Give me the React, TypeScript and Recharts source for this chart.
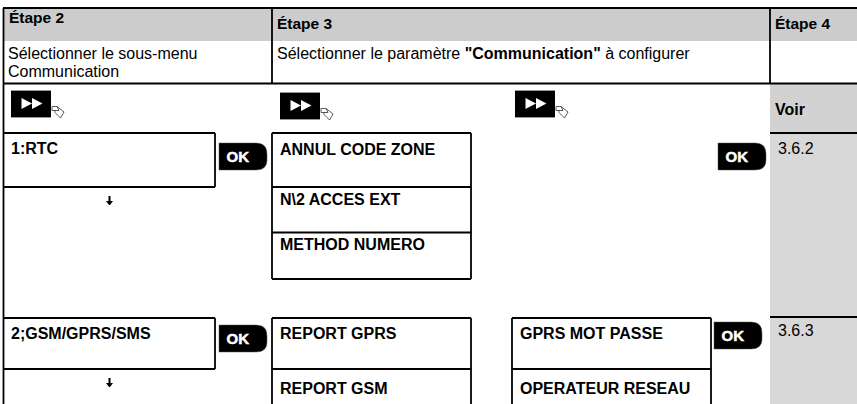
import { ReferenceArea, ReferenceLine, Scatter, ScatterChart, XAxis, YAxis } from "recharts";

const W = 857;
const H = 404;
const FONT = "'Liberation Sans', Arial, sans-serif";

// the table is plotted in a data space equal to the picture's own size
const headerLabels = ["Étape 2", "Étape 3", "Étape 4"];
const headerX = [9, 277, 775];
const headerY = [23, 29, 29];

const introLabels = ["Sélectionner le sous-menu", "Communication", 'Sélectionner le paramètre *"Communication"* à configurer'];
const introX = [8, 8, 277];
const introY = [59, 77, 59];

const menuLabels = [
  "Voir", "1:RTC", "ANNUL CODE ZONE", "N\\2 ACCES EXT", "METHOD NUMERO",
  "2;GSM/GPRS/SMS", "REPORT GPRS", "REPORT GSM", "GPRS MOT PASSE", "OPERATEUR RESEAU",
];
const menuX = [775, 11, 280, 280, 280, 11, 280, 280, 520, 520];
const menuY = [115, 154, 155, 205, 250, 339, 339, 394, 339, 394];

const refLabels = ["3.6.2", "3.6.3"];
const refX = [778, 778];
const refY = [154, 336];

const arrowX = [109.5, 109.5];
const arrowY = [205, 387];

const okX = [219, 718, 219, 714];
const okY = [143, 143, 325, 322];

const ffX = [11, 280, 515];
const ffY = [91, 93, 91];

const hLines = [
  [3, 857, 8], [3, 857, 83.5],
  [3, 215, 133], [272, 471, 133], [770, 857, 133],
  [3, 215, 187], [272, 471, 187], [272, 471, 232.5], [272, 471, 279],
  [3, 215, 318], [272, 471, 318], [512, 711, 318], [770, 857, 317],
  [3, 215, 369], [272, 471, 369], [512, 711, 369],
];
const vLines = [
  [3.5, 8, 404], [272, 8, 83.5], [770, 8, 83.5],
  [215, 133, 187], [272, 133, 279], [471, 133, 279],
  [215, 318, 369], [272, 318, 404], [471, 318, 404],
  [512, 318, 404], [711, 318, 404],
];

const toRows = (labels: string[], xs: number[], ys: number[]) =>
  labels.map((label, i) => ({ label, x: xs[i], y: ys[i] }));

const toPoints = (xs: number[], ys: number[]) => xs.map((x, i) => ({ x, y: ys[i] }));

function textShape(size: number, weight: string) {
  return (props: any) => {
    const parts = String(props.payload.label).split("*");
    return (
      <text x={props.cx} y={props.cy} fontFamily={FONT} fontSize={size} fontWeight={weight} fill="#000">
        {parts.map((p: string, i: number) => (
          <tspan key={i} fontWeight={i % 2 ? "bold" : weight} xmlSpace="preserve">{p}</tspan>
        ))}
      </text>
    );
  };
}

function OkButton(props: any) {
  const { cx, cy } = props;
  return (
    <g transform={`translate(${cx},${cy})`}>
      <path d="M0 0H37Q48 0 48 11V17Q48 27 37 27H0Z" fill="#000" stroke="#555" strokeWidth={0.5} />
      <text x={7.5} y={19} fontFamily={FONT} fontSize={15} fontWeight="bold" fill="#fff" stroke="#fff" strokeWidth={0.5}>OK</text>
    </g>
  );
}

function ForwardIcon(props: any) {
  const { cx, cy } = props;
  return (
    <g transform={`translate(${cx},${cy})`}>
      <rect x={0} y={0} width={40} height={26} fill="#000" />
      <rect x={0} y={-1} width={40} height={1} fill="#999" />
      <rect x={0} y={26} width={40} height={1} fill="#999" />
      <path d="M10.5 7L21 12.5L10.5 18ZM21 7L31.5 12.5L21 18Z" fill="#fff" />
      <path d="M41 15.5H46L53 21L49.5 27L44 21.5V19.5H41ZM46 15.5L48 19.5H44" fill="#fff" stroke="#333" strokeWidth={0.8} />
    </g>
  );
}

function ArrowDown(props: any) {
  const { cx, cy } = props;
  return (
    <path
      d={`M${cx - 1} ${cy - 9}H${cx + 1}V${cy - 4}H${cx + 3.5}L${cx + 0.5} ${cy}H${cx - 0.5}L${cx - 3.5} ${cy - 4}H${cx - 1}Z`}
      fill="#000"
    />
  );
}

export default function App() {
  return (
    <div style={{ position: "fixed", left: 0, top: 0, width: W, height: H, background: "#fff" }}>
      <ScatterChart width={W} height={H} margin={{ top: 0, right: 0, bottom: 0, left: 0 }}>
        <XAxis type="number" dataKey="x" domain={[0, W]} hide />
        <YAxis type="number" dataKey="y" domain={[0, H]} reversed hide />
        <ReferenceArea x1={4} x2={857} y1={9} y2={41} fill="#cccccc" fillOpacity={1} stroke="none" />
        <ReferenceArea x1={770} x2={857} y1={84} y2={133} fill="#d2d2d2" fillOpacity={1} stroke="none" />
        <ReferenceArea x1={770} x2={857} y1={133} y2={404} fill="#d8d8d8" fillOpacity={1} stroke="none" />
        {hLines.map(([x1, x2, y], i) => (
          <ReferenceLine key={`h${i}`} segment={[{ x: x1, y }, { x: x2, y }]} stroke="#000" strokeWidth={1.8} />
        ))}
        {vLines.map(([x, y1, y2], i) => (
          <ReferenceLine key={`v${i}`} segment={[{ x, y: y1 }, { x, y: y2 }]} stroke="#000" strokeWidth={1.8} />
        ))}
        <Scatter data={toRows(headerLabels, headerX, headerY)} shape={textShape(15.5, "bold")} isAnimationActive={false} />
        <Scatter data={toRows(introLabels, introX, introY)} shape={textShape(16, "normal")} isAnimationActive={false} />
        <Scatter data={toRows(menuLabels, menuX, menuY)} shape={textShape(16, "bold")} isAnimationActive={false} />
        <Scatter data={toRows(refLabels, refX, refY)} shape={textShape(16, "normal")} isAnimationActive={false} />
        <Scatter data={toPoints(arrowX, arrowY)} shape={ArrowDown} isAnimationActive={false} />
        <Scatter data={toPoints(okX, okY)} shape={OkButton} isAnimationActive={false} />
        <Scatter data={toPoints(ffX, ffY)} shape={ForwardIcon} isAnimationActive={false} />
      </ScatterChart>
    </div>
  );
}
